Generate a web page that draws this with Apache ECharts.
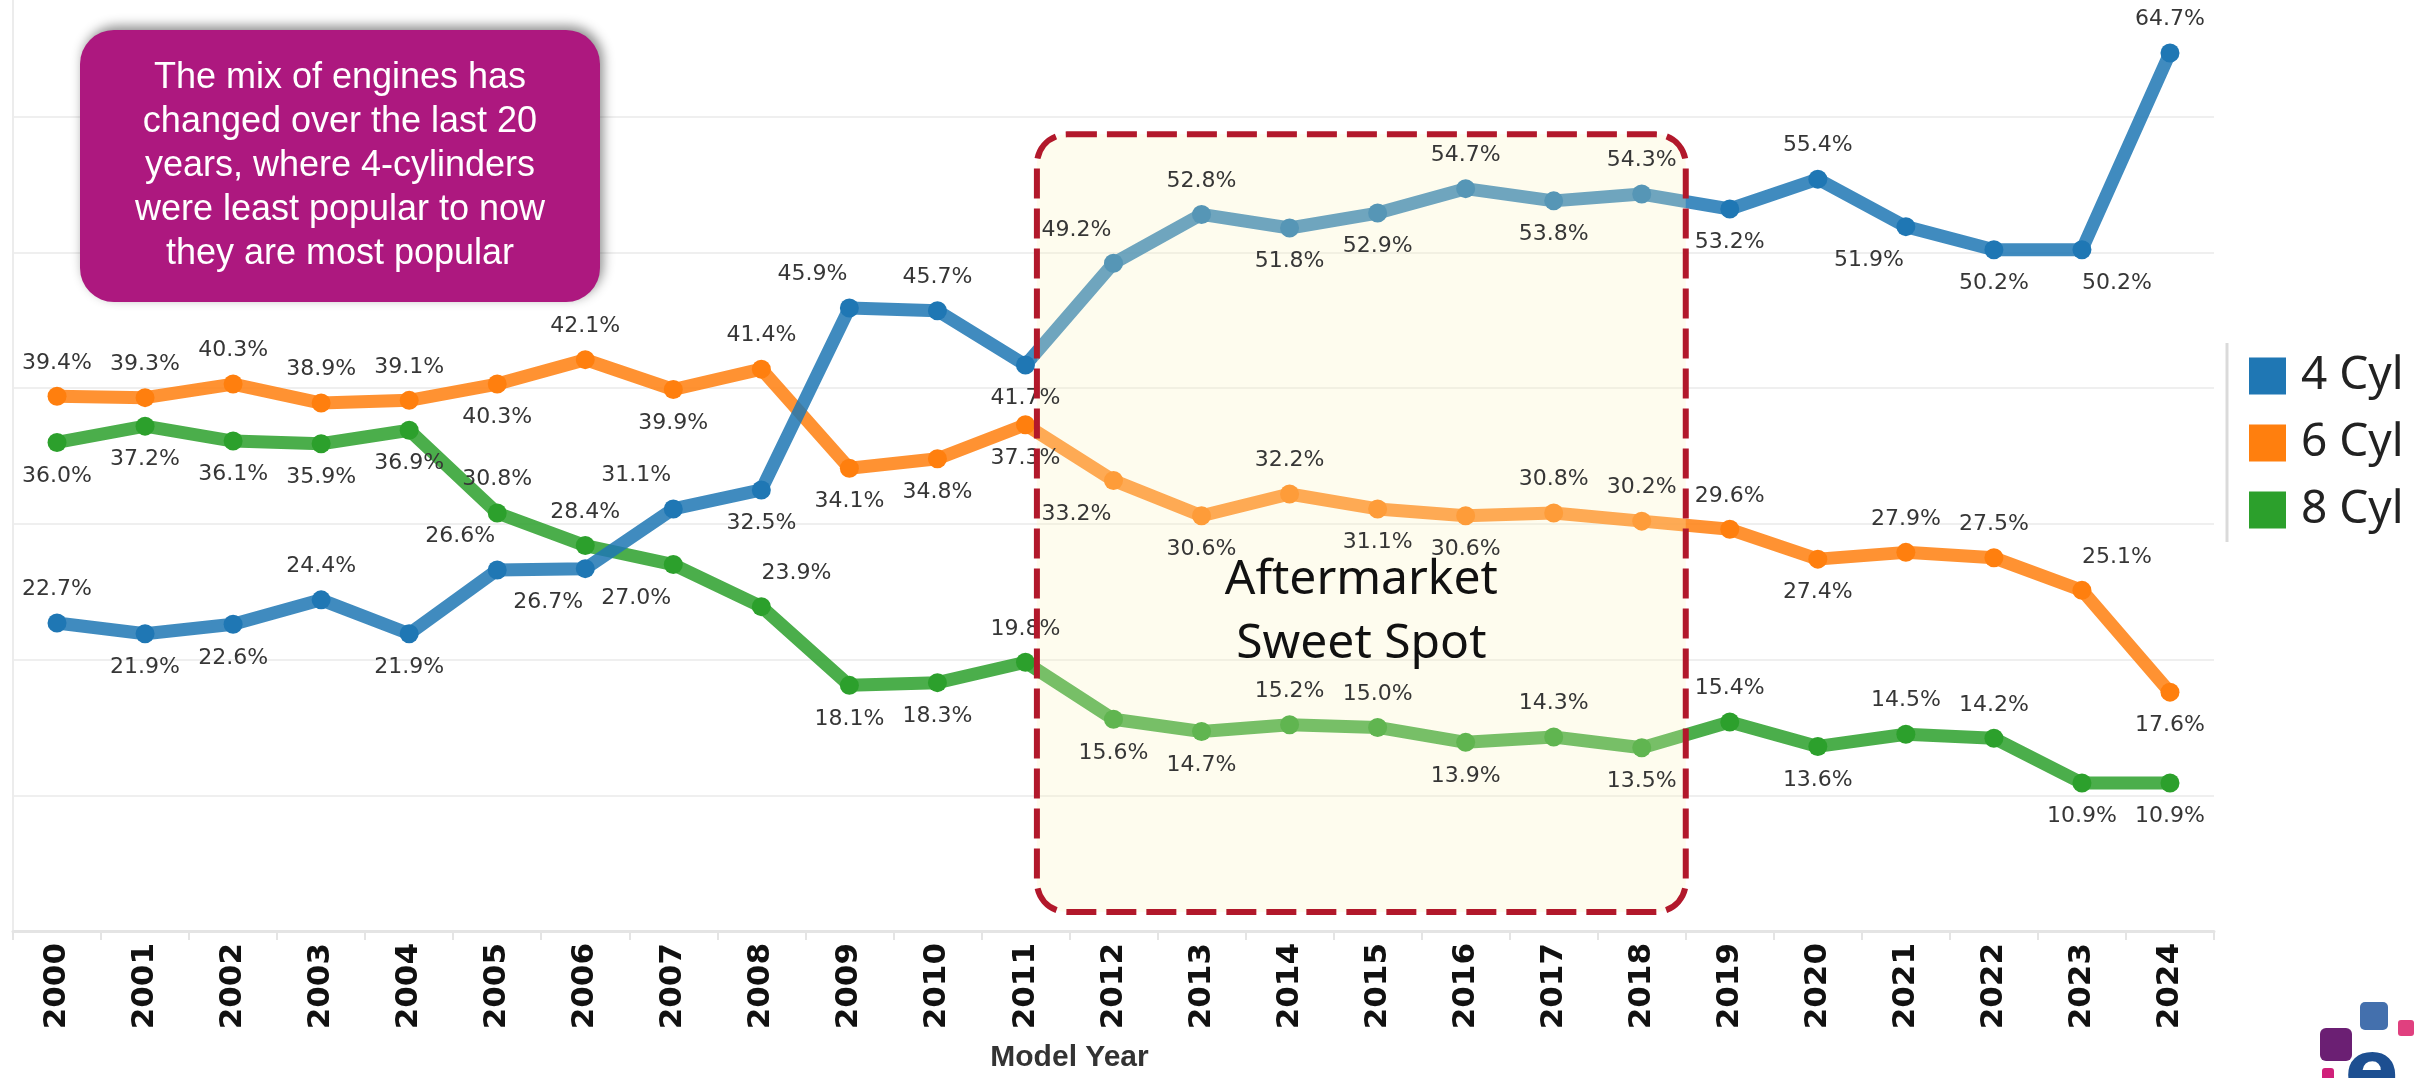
<!DOCTYPE html>
<html>
<head>
<meta charset="utf-8">
<title>Engine mix by model year</title>
<script src="https://cdn.jsdelivr.net/npm/echarts@6/dist/echarts.min.js"></script>
<style>
  html, body { margin: 0; padding: 0; background: #fff; }
  #chart { width: 2436px; height: 1078px; }
</style>
</head>
<body>
<div id="chart"></div>
<script>
// model years on the x axis
const years = ['2000', '2001', '2002', '2003', '2004', '2005', '2006', '2007', '2008', '2009',
  '2010', '2011', '2012', '2013', '2014', '2015', '2016', '2017', '2018', '2019',
  '2020', '2021', '2022', '2023', '2024'];

const seriesNames = ['4 Cyl', '6 Cyl', '8 Cyl'];

// share of engines, %
const cyl4 = [22.7, 21.9, 22.6, 24.4, 21.9, 26.6, 26.7, 31.1, 32.5, 45.9, 45.7, 41.7, 49.2,
  52.8, 51.8, 52.9, 54.7, 53.8, 54.3, 53.2, 55.4, 51.9, 50.2, 50.2, 64.7];
const cyl6 = [39.4, 39.3, 40.3, 38.9, 39.1, 40.3, 42.1, 39.9, 41.4, 34.1, 34.8, 37.3, 33.2,
  30.6, 32.2, 31.1, 30.6, 30.8, 30.2, 29.6, 27.4, 27.9, 27.5, 25.1, 17.6];
const cyl8 = [36.0, 37.2, 36.1, 35.9, 36.9, 30.8, 28.4, 27.0, 23.9, 18.1, 18.3, 19.8, 15.6,
  14.7, 15.2, 15.0, 13.9, 14.3, 13.5, 15.4, 13.6, 14.5, 14.2, 10.9, 10.9];

// where each value label sits: t/b = above/below, l/r = nudged left/right
const place4 = ['t', 'b', 'b', 't', 'b', 'tl', 'bl', 'tl', 'b', 'tl', 't', 'b', 'tl',
  't', 'b', 'b', 't', 'b', 't', 'b', 't', 'bl', 'b', 'br', 't'];
const place6 = ['t', 't', 't', 't', 't', 'b', 't', 'b', 't', 'b', 'b', 'b', 'bl',
  'b', 't', 'b', 'b', 't', 't', 't', 'b', 't', 't', 'tr', 'b'];
const place8 = ['b', 'b', 'b', 'b', 'b', 't', 't', 'bl', 'tr', 'b', 'b', 't', 'b',
  'b', 't', 't', 'b', 't', 'b', 't', 'b', 't', 't', 'b', 'b'];

// "Aftermarket Sweet Spot" box: year span and value span
const sweetSpotYears = ['2011', '2018'];
const sweetSpotRange = [1.4, 58.7];

const colors = ['#1f77b4', '#ff7f0e', '#2ca02c'];
const values = [cyl4, cyl6, cyl8];
const places = [place4, place6, place8];

const chart = echarts.init(document.getElementById('chart'));

const withLabels = (vals, place) => vals.map((v, i) => {
  const p = place[i];
  return {
    value: v,
    label: {
      position: p[0] === 't' ? 'top' : 'bottom',
      offset: [p[1] === 'l' ? -37 : p[1] === 'r' ? 35 : 0, 0],
    },
  };
});

// lines first (blue drawn last so it sits on top)
const lineSeries = [2, 1, 0].map((k) => ({
  name: seriesNames[k],
  type: 'line',
  data: values[k],
  z: 2,
  symbol: 'circle',
  symbolSize: 19,
  itemStyle: { color: colors[k] },
  lineStyle: { width: 13, opacity: 0.85, cap: 'round', join: 'round' },
  label: { show: false },
  emphasis: { disabled: true },
  silent: true,
}));

// label-only copies, kept above the washed box overlay
const labelSeries = [2, 1, 0].map((k) => ({
  name: seriesNames[k] + ' labels',
  type: 'line',
  data: withLabels(values[k], places[k]),
  z: 4,
  symbol: 'circle',
  symbolSize: 19,
  itemStyle: { color: 'rgba(0,0,0,0)' },
  lineStyle: { width: 0, opacity: 0 },
  label: {
    show: true,
    distance: 13,
    formatter: (p) => p.value.toFixed(1) + '%',
    fontFamily: 'DejaVu Sans',
    fontSize: 22,
    color: '#363636',
  },
  emphasis: { disabled: true },
  silent: true,
}));

const options = {
  animation: false,
  backgroundColor: '#fff',
  grid: { left: 13, right: 222, top: 0, bottom: 144 },
  legend: {
    data: seriesNames,
    orient: 'vertical',
    left: 2244,
    top: 348,
    icon: 'rect',
    itemWidth: 37,
    itemHeight: 37,
    itemGap: 21,
    selectedMode: false,
    textStyle: { fontFamily: 'Noto Sans', fontSize: 46, color: '#222', padding: [0, 0, 0, 10] },
  },
  xAxis: {
    type: 'category',
    data: years,
    boundaryGap: true,
    axisLine: { lineStyle: { color: '#e4e4e4', width: 3 } },
    axisTick: { show: true, length: 9, lineStyle: { color: '#e4e4e4', width: 2 } },
    axisLabel: {
      rotate: 90,
      margin: 12,
      fontFamily: 'DejaVu Sans',
      fontWeight: 'bold',
      fontSize: 31,
      color: '#111',
    },
    name: 'Model Year',
    nameLocation: 'middle',
    nameGap: 112,
    nameTextStyle: {
      fontFamily: 'Liberation Sans',
      fontWeight: 'bold',
      fontSize: 30,
      color: '#333',
      padding: [0, 88, 0, 0],
    },
  },
  yAxis: {
    type: 'value',
    min: 0,
    max: 68.6,
    interval: 10,
    axisLabel: { show: false },
    axisTick: { show: false },
    axisLine: { show: true, lineStyle: { color: '#ececec', width: 2 } },
    splitLine: { showMaxLine: false, lineStyle: { color: '#efefef', width: 2 } },
  },
  series: [...lineSeries, ...labelSeries],
};

chart.setOption(options);

// sweet spot box from the axes
const x0 = chart.convertToPixel({ xAxisIndex: 0 }, sweetSpotYears[0]);
const x1 = chart.convertToPixel({ xAxisIndex: 0 }, sweetSpotYears[1]);
const band = chart.convertToPixel({ xAxisIndex: 0 }, years[1]) - chart.convertToPixel({ xAxisIndex: 0 }, years[0]);
const boxLeft = x0 + band * 0.13;
const boxRight = x1 + band * 0.5;
const boxTop = chart.convertToPixel({ yAxisIndex: 0 }, sweetSpotRange[1]);
const boxBottom = chart.convertToPixel({ yAxisIndex: 0 }, sweetSpotRange[0]);
const box = { x: boxLeft, y: boxTop, width: boxRight - boxLeft, height: boxBottom - boxTop, r: 30 };

chart.setOption({
  graphic: [
    // washed cream overlay
    {
      type: 'rect', z: 3, silent: true,
      shape: box,
      style: { fill: 'rgba(251,243,187,0.25)' },
    },
    // dashed red border
    {
      type: 'rect', z: 5, silent: true,
      shape: box,
      style: { fill: null, stroke: '#b2182b', lineWidth: 6, lineDash: [30, 10] },
    },
    {
      type: 'text', z: 6, silent: true,
      x: box.x + box.width / 2,
      y: box.y + box.height * 0.615,
      style: {
        text: 'Aftermarket\nSweet Spot',
        fontFamily: 'Noto Sans',
        fontSize: 48,
        lineHeight: 64,
        fill: '#111',
        align: 'center',
        verticalAlign: 'middle',
      },
    },
    // purple callout
    {
      type: 'rect', z: 6, silent: true,
      shape: { x: 80, y: 30, width: 520, height: 272, r: 34 },
      style: {
        fill: '#ad187f',
        shadowBlur: 12,
        shadowColor: 'rgba(0,0,0,0.45)',
        shadowOffsetX: 3,
        shadowOffsetY: -4,
      },
    },
    {
      type: 'text', z: 7, silent: true,
      x: 340, y: 166,
      style: {
        text: 'The mix of engines has\nchanged over the last 20\nyears, where 4-cylinders\nwere least popular to now\nthey are most popular',
        fontFamily: 'Liberation Sans',
        fontSize: 36,
        lineHeight: 44,
        fill: '#fff',
        align: 'center',
        verticalAlign: 'middle',
      },
    },
    // legend separator
    {
      type: 'line', z: 6, silent: true,
      shape: { x1: 2227, y1: 343, x2: 2227, y2: 542 },
      style: { stroke: '#dadada', lineWidth: 3 },
    },
    // logo corner
    { type: 'rect', z: 6, silent: true, shape: { x: 2360, y: 1002, width: 28, height: 28, r: 5 }, style: { fill: '#4470ad' } },
    { type: 'rect', z: 6, silent: true, shape: { x: 2398, y: 1020, width: 16, height: 16, r: 3 }, style: { fill: '#e0407f' } },
    { type: 'rect', z: 6, silent: true, shape: { x: 2320, y: 1028, width: 32, height: 33, r: 6 }, style: { fill: '#6b1f73' } },
    { type: 'rect', z: 6, silent: true, shape: { x: 2322, y: 1068, width: 12, height: 14, r: 3 }, style: { fill: '#d0207a' } },
    {
      type: 'text', z: 6, silent: true,
      x: 2372, y: 1036,
      style: { text: 'e', fontFamily: 'DejaVu Sans', fontWeight: 'bold', fontSize: 80, fill: '#1d4f91', align: 'center', verticalAlign: 'top' },
    },
  ],
});
</script>
</body>
</html>
